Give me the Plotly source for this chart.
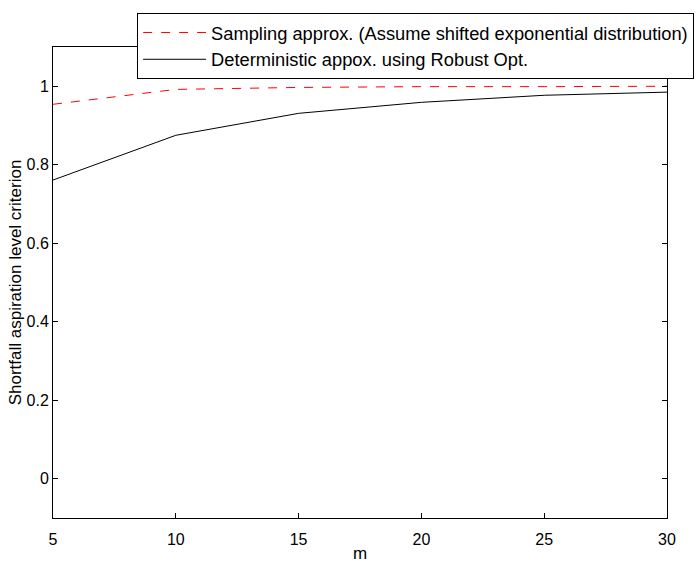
import plotly.graph_objects as go

m_values = [5, 10, 15, 20, 25, 30]
sampling = [0.954, 0.992, 0.997, 0.999, 0.999, 1.0]
deterministic = [0.761, 0.875, 0.931, 0.959, 0.977, 0.985]

x_ticks = [5, 10, 15, 20, 25, 30]
y_ticks = [0, 0.2, 0.4, 0.6, 0.8, 1]
y_tick_labels = ["0", "0.2", "0.4", "0.6", "0.8", "1"]

fam = "Liberation Sans, Arial, sans-serif"
tick_font = dict(family=fam, size=16, color="black")
title_font = dict(family=fam, size=17, color="black")
legend_font = dict(family=fam, size=18.3, color="black")

fig = go.Figure()
fig.add_trace(go.Scatter(
    x=m_values, y=sampling, mode="lines",
    name="Sampling approx. (Assume shifted exponential distribution)",
    line=dict(color="red", width=1, dash="dash"),
))
fig.add_trace(go.Scatter(
    x=m_values, y=deterministic, mode="lines",
    name="Deterministic appox. using Robust Opt.",
    line=dict(color="black", width=1),
))

axis_common = dict(
    showgrid=False, zeroline=False, showline=True, linecolor="black", linewidth=1,
    mirror="ticks", ticks="inside", ticklen=5, tickcolor="black", tickwidth=1,
    tickfont=tick_font, automargin=False,
)

fig.update_layout(
    width=696, height=563,
    margin=dict(l=53, r=29, t=47, b=45, autoexpand=False),
    paper_bgcolor="white", plot_bgcolor="white",
    font=tick_font,
    showlegend=True,
    legend=dict(
        x=0.137, y=1.072, xanchor="left", yanchor="top",
        bgcolor="white", bordercolor="black", borderwidth=1,
        font=legend_font, tracegroupgap=0, itemwidth=63,
    ),
    xaxis=dict(range=[5, 30], tickvals=x_ticks, ticklabelstandoff=7,
               title=dict(text="m", font=title_font, standoff=2), **axis_common),
    yaxis=dict(range=[-0.1, 1.1], tickvals=y_ticks, ticktext=y_tick_labels,
               title=dict(text="Shortfall aspiration level criterion", font=title_font, standoff=0), **axis_common),
)

fig.write_html("out.html")
